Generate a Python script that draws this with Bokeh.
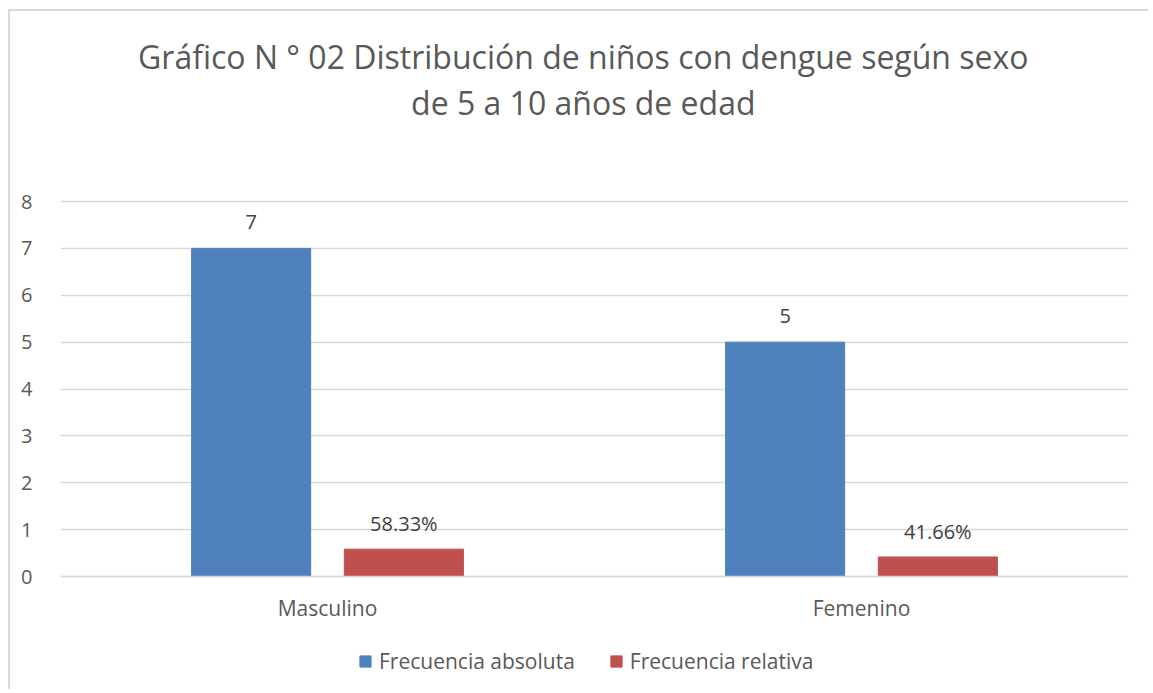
from bokeh.plotting import figure
from bokeh.models import FactorRange, Label, Legend, LegendItem, ColumnDataSource, LabelSet
from bokeh.core.properties import value
from bokeh.transform import dodge
from bokeh.embed import file_html
from bokeh.resources import INLINE

categories = ["Masculino", "Femenino"]
absoluta = [7, 5]
relativa = [0.5833, 0.4166]
abs_labels = ["7", "5"]
rel_labels = ["58.33%", "41.66%"]
series_names = ["Frecuencia absoluta", "Frecuencia relativa"]
y_ticks = [0, 1, 2, 3, 4, 5, 6, 7, 8]
title_lines = ["Gráfico N ° 02 Distribución de niños con dengue según sexo",
               "de 5 a 10 años de edad"]

BLUE = "#4F81BD"
RED = "#C0504D"
TXT = "#595959"
GRID = "#D9D9D9"
FONT = "Open Sans"

W, H = 1140, 680
PX_PER_UNIT = 375 / 8.0
Y_TOP = 8 + 190 / PX_PER_UNIT
Y_BOT = -(H - 565) / PX_PER_UNIT

src = ColumnDataSource(dict(cat=categories, a=absoluta, r=relativa,
                            al=abs_labels, rl=rel_labels))

p = figure(x_range=FactorRange(*categories, range_padding=0),
           y_range=(Y_BOT, Y_TOP),
           width=W, height=H, output_backend="svg", toolbar_location=None,
           min_border_left=50, min_border_right=22, min_border_top=0,
           min_border_bottom=0)
p.outline_line_color = None
p.styles = {"margin-left": "8px", "margin-top": "9px",
            "border-top": "2px solid #DADADA", "border-left": "2px solid #DADADA"}

ra = p.vbar(x=dodge("cat", -0.143, range=p.x_range), top="a", bottom=0, width=0.223,
            source=src, fill_color=BLUE, line_color=BLUE)
rr = p.vbar(x=dodge("cat", 0.143, range=p.x_range), top="r", bottom=0, width=0.223,
            source=src, fill_color=RED, line_color=RED)

p.add_layout(LabelSet(x=dodge("cat", -0.143, range=p.x_range), y="a", text="al",
                      source=src, text_align="center", text_baseline="alphabetic",
                      y_offset=19, text_font=value(FONT), text_font_size="20px",
                      text_color="#404040"))
p.add_layout(LabelSet(x=dodge("cat", 0.143, range=p.x_range), y="r", text="rl",
                      source=src, text_align="center", text_baseline="alphabetic",
                      y_offset=18, text_font=value(FONT), text_font_size="20px",
                      text_color="#404040"))

title_y = [8 + (190 - 45) / PX_PER_UNIT, 8 + (190 - 91) / PX_PER_UNIT]
for t, ty in zip(title_lines, title_y):
    p.add_layout(Label(x=0.979, y=ty, text=t, text_align="center",
                       text_baseline="alphabetic", text_font=FONT,
                       text_font_size="32px", text_color=TXT))

p.yaxis.ticker = y_ticks
p.yaxis.axis_line_color = None
p.yaxis.major_tick_line_color = None
p.yaxis.minor_tick_line_color = None
p.yaxis.major_label_text_font = FONT
p.yaxis.major_label_text_font_size = "20px"
p.yaxis.major_label_text_color = TXT
p.yaxis.major_label_standoff = 22

p.xaxis.fixed_location = 0
p.xaxis.axis_line_color = GRID
p.xaxis.axis_line_width = 1.5
p.xaxis.major_tick_line_color = None
p.xaxis.minor_tick_line_color = None
p.xaxis.major_label_text_font = FONT
p.xaxis.major_label_text_font_size = "21px"
p.xaxis.major_label_text_color = TXT
p.xaxis.major_label_standoff = 11

p.xgrid.grid_line_color = None
p.ygrid.grid_line_color = GRID
p.ygrid.grid_line_width = 1.5

legend = Legend(items=[LegendItem(label=series_names[0], renderers=[ra]),
                       LegendItem(label=series_names[1], renderers=[rr])],
                orientation="horizontal", location=(298, 16),
                label_text_font=FONT, label_text_font_size="21px",
                label_text_color=TXT, border_line_color=None,
                background_fill_alpha=0,
                glyph_width=14, glyph_height=14, spacing=34, margin=0,
                label_standoff=7)
p.add_layout(legend)

open("out.html", "w").write(file_html(p, INLINE))
